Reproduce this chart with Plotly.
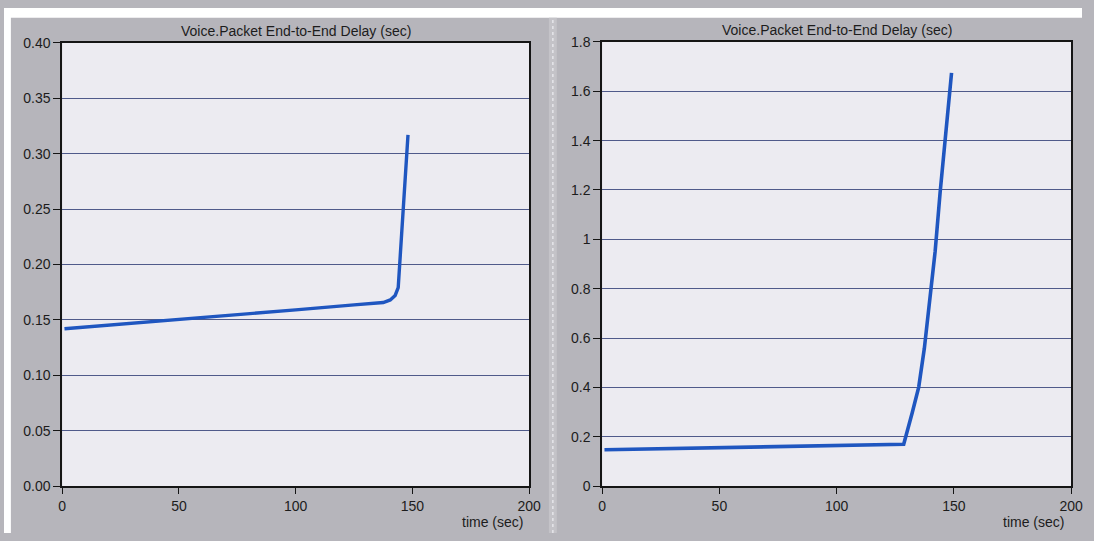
import plotly.graph_objects as go

W, H = 1094, 541

# ---- data ----
left_t = [1, 25, 50, 75, 100, 125, 137.5, 140.5, 142.6, 143.9, 148.1]
left_delay = [0.142, 0.146, 0.1505, 0.155, 0.159, 0.1635, 0.1657, 0.168, 0.172, 0.179, 0.317]

right_t = [1, 25, 50, 75, 100, 128.6, 132.2, 135.0, 137.4, 139.9, 142.0, 144.1, 146.2, 149.0]
right_delay = [0.147, 0.151, 0.155, 0.159, 0.163, 0.169, 0.296, 0.401, 0.558, 0.755, 0.951, 1.187, 1.411, 1.675]

x_ticks = [0, 50, 100, 150, 200]
left_y_ticks = [0.00, 0.05, 0.10, 0.15, 0.20, 0.25, 0.30, 0.35, 0.40]
right_y_ticks = [0, 0.2, 0.4, 0.6, 0.8, 1.0, 1.2, 1.4, 1.6, 1.8]

title_text = "Voice.Packet End-to-End Delay (sec)"
x_label = "time (sec)"

FONT = "Liberation Sans, Arial, sans-serif"
GRAY = "#b6b5bb"
PLOTBG = "#ecebf1"
GRID = "#4f5a8a"
LINE = "#1f56c0"
TXT = "#1c1c1c"

def px_x(p):
    return p / W

def px_y(p):
    return 1 - p / H

fig = go.Figure()
fig.add_trace(go.Scatter(x=left_t, y=left_delay, mode="lines",
                         line=dict(color=LINE, width=3.4), xaxis="x", yaxis="y",
                         showlegend=False, hoverinfo="skip"))
fig.add_trace(go.Scatter(x=right_t, y=right_delay, mode="lines",
                         line=dict(color=LINE, width=3.6), xaxis="x2", yaxis="y2",
                         showlegend=False, hoverinfo="skip"))

xcommon = dict(range=[0, 200], tickvals=x_ticks, showgrid=False, zeroline=False,
               showline=True, linecolor="#151515", linewidth=1.6, mirror=True,
               ticks="outside", ticklen=6, tickcolor="#151515", tickwidth=1,
               tickfont=dict(family=FONT, size=14, color=TXT), fixedrange=True)
ycommon = dict(showgrid=True, gridcolor=GRID, gridwidth=1, zeroline=False,
               showline=True, linecolor="#151515", linewidth=1.6, mirror=True,
               ticks="outside", ticklen=7, tickcolor="#151515", tickwidth=1,
               tickfont=dict(family=FONT, size=14, color=TXT), fixedrange=True)

fig.update_layout(
    width=W, height=H,
    margin=dict(l=0, r=0, t=0, b=0),
    paper_bgcolor=GRAY,
    plot_bgcolor=PLOTBG,
    xaxis=dict(domain=[px_x(59), px_x(533)], anchor="y", **xcommon),
    yaxis=dict(domain=[px_y(492.6), px_y(36)], anchor="x", range=[0, 0.40],
               tickvals=left_y_ticks, tickformat=".2f", **ycommon),
    xaxis2=dict(domain=[px_x(607), px_x(1083)], anchor="y2", **xcommon),
    yaxis2=dict(domain=[px_y(492.6), px_y(35)], anchor="x2", range=[0, 1.8],
                tickvals=right_y_ticks,
                ticktext=[("%g" % v) for v in right_y_ticks], **ycommon),
    shapes=[
        dict(type="rect", xref="paper", yref="paper", x0=0, x1=1,
             y0=px_y(10), y1=1, fillcolor="white", line=dict(width=0), layer="above"),
        dict(type="rect", xref="paper", yref="paper", x0=0, x1=px_x(7),
             y0=0, y1=1, fillcolor="white", line=dict(width=0), layer="above"),
        dict(type="rect", xref="paper", yref="paper", x0=px_x(553), x1=px_x(561),
             y0=0, y1=px_y(10), fillcolor="#c4c3c8", line=dict(width=0), layer="above"),
        dict(type="line", xref="paper", yref="paper", x0=px_x(557), x1=px_x(557),
             y0=0, y1=px_y(10), line=dict(color="#e6e6ea", width=1.5, dash="dot"),
             layer="above"),
    ],
    annotations=[
        dict(text=title_text, xref="paper", yref="paper", x=px_x(296), y=px_y(24),
             xanchor="center", yanchor="middle", showarrow=False,
             font=dict(family=FONT, size=14, color=TXT)),
        dict(text=title_text, xref="paper", yref="paper", x=px_x(845), y=px_y(23),
             xanchor="center", yanchor="middle", showarrow=False,
             font=dict(family=FONT, size=14, color=TXT)),
        dict(text=x_label, xref="paper", yref="paper", x=px_x(529), y=px_y(530),
             xanchor="right", yanchor="middle", showarrow=False,
             font=dict(family=FONT, size=14, color=TXT)),
        dict(text=x_label, xref="paper", yref="paper", x=px_x(1078), y=px_y(530),
             xanchor="right", yanchor="middle", showarrow=False,
             font=dict(family=FONT, size=14, color=TXT)),
    ],
)

fig.write_html("out.html")
